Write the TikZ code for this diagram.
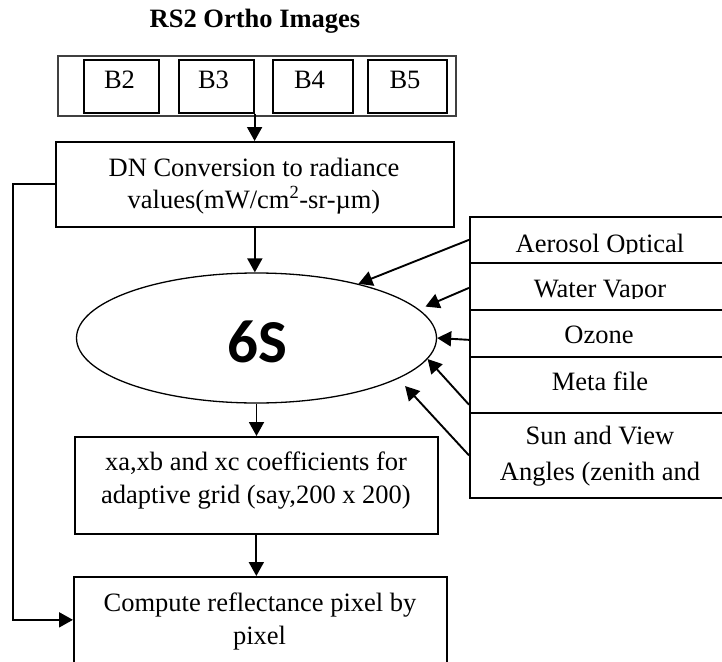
\documentclass[tikz,border=0pt]{standalone}
\usepackage{fontspec}
\setmainfont{Liberation Serif}
\newfontfamily\sixfont{Carlito}
\usetikzlibrary{arrows.meta,shapes.geometric,calc}
\begin{document}
\begin{tikzpicture}[x=1pt,y=-1pt,
  txt/.style={font=\fontsize{26.5}{32}\selectfont, anchor=base, inner sep=0pt},
  boxn/.style={draw, line width=1.7pt, inner sep=0pt, anchor=north west},
  band/.style={draw, line width=1.6pt, inner sep=0pt, anchor=north west},
  outerbox/.style={draw=black!75, line width=2.2pt, inner sep=0pt, anchor=north west},
  arr/.style={line width=1.9pt, -{Triangle[length=14pt,width=15pt]}},
  ]
\useasboundingbox (0,0) rectangle (722,661);
\clip (0,0) rectangle (722,661);

% title
\node[txt, font=\fontsize{26.5}{32}\selectfont\bfseries] (title) at (255,28) {RS2 Ortho Images};

% bands
\node[outerbox, minimum width=398pt, minimum height=60pt] (bands) at (57,55) {};
\node[band, minimum width=75pt, minimum height=53pt] (b2) at (83,59) {};
\node[band, minimum width=75pt, minimum height=53pt] (b3) at (178,59) {};
\node[band, minimum width=80pt, minimum height=53pt] (b4) at (272,59) {};
\node[band, minimum width=79pt, minimum height=53pt] (b5) at (367,59) {};
\node[txt] (b2t) at (119.5,88) {B2};
\node[txt] (b3t) at (213.5,88) {B3};
\node[txt] (b4t) at (309.5,88) {B4};
\node[txt] (b5t) at (405,88) {B5};

% DN conversion
\node[boxn, minimum width=398pt, minimum height=85pt] (dn) at (55,141) {};
\node[txt] (dn1) at (254,176) {DN Conversion to radiance};
\node[txt] (dn2) at (254,208) {values(mW/cm\textsuperscript{2}-sr-µm)};

% 6S ellipse
\node[ellipse, draw, line width=1.3pt, inner sep=0pt, minimum width=360pt, minimum height=130pt] (sixs) at (256.5,338) {};
\node[anchor=base, inner sep=0pt, font={\sixfont\fontsize{61}{72}\selectfont\bfseries}] (sixt) at (257,362) {6S};

% coefficients box
\node[boxn, minimum width=363pt, minimum height=97pt] (xa) at (74,436) {};
\node[txt] (xa1) at (256,470) {xa,xb and xc coefficients for};
\node[txt] (xa2) at (256,503) {adaptive grid (say,200 x 200)};

% compute box
\node[boxn, minimum width=373pt, minimum height=86pt] (comp) at (73,576) {};
\node[txt] (comp1) at (260,611) {Compute reflectance pixel by};
\node[txt] (comp2) at (259.5,644) {pixel};

% right panel rows
\node[boxn, minimum width=262pt, minimum height=46pt] (aer) at (469,216) {};
\node[boxn, minimum width=262pt, minimum height=47pt] (wat) at (469,262) {};
\node[boxn, minimum width=262pt, minimum height=47pt] (ozo) at (469,309) {};
\node[boxn, minimum width=262pt, minimum height=56pt] (met) at (469,356) {};
\node[boxn, minimum width=262pt, minimum height=85pt] (sun) at (469,412) {};

\begin{scope}
\clip (469,216) rectangle (731,253.5);
\node[txt] (aert) at (600,252) {Aerosol Optical};
\end{scope}
\begin{scope}
\clip (469,262) rectangle (731,298);
\node[txt] (watt) at (600,297) {Water Vapor};
\end{scope}
\node[txt] (ozot) at (599,343) {Ozone};
\node[txt] (mett) at (600,390) {Meta file};
\begin{scope}
\clip (469,412) rectangle (731,487);
\node[txt] (sun1) at (600,444) {Sun and View};
\node[txt] (sun2) at (600,480) {Angles (zenith and};
\end{scope}

% connectors
\draw[arr] (b3.south east) -- (b3.south east |- dn.north);
\draw[arr] (dn.south) -- (dn.south |- sixs.north);
\draw[arr] (sixs.south) -- (sixs.south |- xa.north);
\draw[arr] (xa.south) -- (xa.south |- comp.north);
\draw[arr] (dn.west) -- ++(-42,0) |- (comp.west);

\draw[arr] (aer.west) -- (sixs.28);
\draw[arr, shorten >=7pt] ([yshift=-1.5pt]wat.west) -- (sixs.10);
\draw[arr] ([yshift=-6.5pt]ozo.west) -- (sixs.east);
\draw[arr] ([yshift=9pt]met.south west) -- (sixs.-7);
\draw[arr, shorten >=10pt] (sun.west) -- (sixs.-16);
\end{tikzpicture}
\end{document}
